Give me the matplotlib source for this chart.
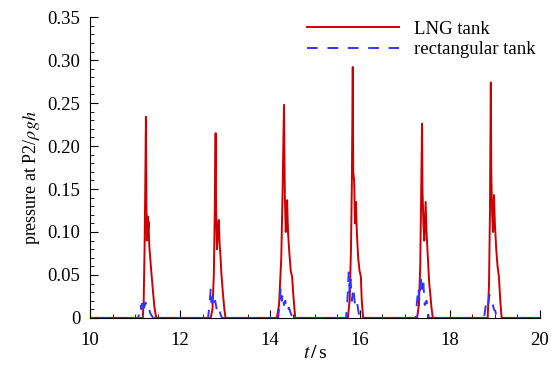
import matplotlib
matplotlib.use("Agg")
import matplotlib.pyplot as plt
from matplotlib.ticker import MultipleLocator, FuncFormatter

plt.rcParams['font.family'] = ['Liberation Serif', 'DejaVu Serif']
plt.rcParams['mathtext.fontset'] = 'stix'

# LNG tank, pressure at P2 (one row per impact event)
t_lng = [10.0,
         11.17, 11.19, 11.21, 11.225, 11.24, 11.25, 11.26, 11.27, 11.28, 11.29, 11.30, 11.31, 11.32, 11.35, 11.39, 11.43, 11.47,
         12.68, 12.72, 12.75, 12.77, 12.79, 12.80, 12.82, 12.84, 12.86, 12.87, 12.88, 12.90, 12.92, 12.93, 12.95, 12.98, 13.01,
         14.15, 14.20, 14.25, 14.28, 14.31, 14.33, 14.35, 14.37, 14.38, 14.40, 14.43, 14.46, 14.49, 14.52, 14.56,
         15.73, 15.77, 15.80, 15.82, 15.84, 15.85, 15.87, 15.89, 15.91, 15.93, 15.96, 15.99, 16.02, 16.04, 16.07,
         17.27, 17.31, 17.34, 17.36, 17.38, 17.39, 17.41, 17.43, 17.46, 17.48, 17.51, 17.54, 17.56, 17.59, 17.62,
         18.84, 18.87, 18.89, 18.90, 18.91, 18.92, 18.94, 18.96, 18.98, 19.00, 19.03, 19.06, 19.09, 19.12, 19.15,
         20.0]
p_lng = [0.0,
         0, 0.02, 0.08, 0.15, 0.234, 0.14, 0.09, 0.10, 0.118, 0.105, 0.112, 0.09, 0.08, 0.06, 0.035, 0.012, 0,
         0, 0.01, 0.05, 0.12, 0.215, 0.13, 0.08, 0.10, 0.114, 0.10, 0.085, 0.07, 0.05, 0.044, 0.03, 0.012, 0,
         0, 0.015, 0.07, 0.15, 0.248, 0.14, 0.10, 0.125, 0.137, 0.10, 0.075, 0.055, 0.048, 0.025, 0,
         0, 0.02, 0.08, 0.16, 0.292, 0.17, 0.16, 0.11, 0.135, 0.10, 0.07, 0.055, 0.048, 0.02, 0,
         0, 0.015, 0.06, 0.14, 0.226, 0.15, 0.11, 0.09, 0.135, 0.10, 0.07, 0.04, 0.03, 0.012, 0,
         0, 0.04, 0.12, 0.20, 0.274, 0.17, 0.12, 0.10, 0.143, 0.11, 0.08, 0.06, 0.048, 0.02, 0,
         0.0]

# rectangular tank
t_rect = [10.0,
          11.07, 11.10, 11.12, 11.14, 11.16, 11.18, 11.20, 11.23, 11.26, 11.30, 11.34, 11.40,
          12.62, 12.65, 12.68, 12.70, 12.72, 12.75, 12.78, 12.82, 12.86, 12.90, 12.93,
          14.18, 14.21, 14.24, 14.26, 14.28, 14.31, 14.34, 14.38, 14.42, 14.47, 14.51,
          15.69, 15.72, 15.75, 15.77, 15.79, 15.82, 15.85, 15.89, 15.93, 15.97, 16.00,
          17.24, 17.27, 17.30, 17.32, 17.35, 17.38, 17.41, 17.44, 17.48, 17.53,
          18.76, 18.79, 18.82, 18.85, 18.88, 18.91, 18.94, 18.98, 19.01, 19.04,
          20.0]
p_rect = [0.0,
          0, 0.008, 0.015, 0.01, 0.02, 0.022, 0.012, 0.018, 0.01, 0.012, 0.005, 0,
          0, 0.012, 0.033, 0.018, 0.025, 0.015, 0.02, 0.008, 0.012, 0.004, 0,
          0, 0.015, 0.036, 0.02, 0.028, 0.015, 0.02, 0.008, 0.012, 0.004, 0,
          0, 0.02, 0.053, 0.03, 0.045, 0.02, 0.035, 0.015, 0.02, 0.006, 0,
          0, 0.02, 0.035, 0.02, 0.05, 0.03, 0.04, 0.015, 0.02, 0,
          0, 0.012, 0.02, 0.015, 0.027, 0.022, 0.018, 0.01, 0.008, 0,
          0.0]

fig = plt.figure(figsize=(5.6, 3.65), dpi=100)
ax = fig.add_axes([0.161, 0.129, 0.803, 0.824])

ax.plot(t_lng, p_lng, color='#cc0000', lw=1.4, label='LNG tank')
ax.plot(t_rect, p_rect, color='#3333ff', lw=1.4, ls=(0, (5.5, 5)), label='rectangular tank')

ax.set_xlim(10, 20)
ax.set_ylim(0, 0.35)
ax.xaxis.set_major_locator(MultipleLocator(2))
ax.xaxis.set_minor_locator(MultipleLocator(0.5))
ax.yaxis.set_major_locator(MultipleLocator(0.05))
ax.yaxis.set_minor_locator(MultipleLocator(0.01))
ax.yaxis.set_major_formatter(FuncFormatter(lambda v, pos: '0' if abs(v) < 1e-9 else '%.2f' % v))

ax.tick_params(which='both', direction='in', labelsize=13.5)
ax.tick_params(which='major', length=6)
ax.tick_params(which='minor', length=3)
ax.tick_params(axis='x', pad=10)
ax.tick_params(axis='y', pad=7)
ax.spines['top'].set_visible(False)
ax.spines['right'].set_visible(False)

ax.set_xlabel(r'$t\,/\,$s', fontsize=14, labelpad=-3)
ax.set_ylabel(r'pressure at P2/$\rho gh$', fontsize=13)
ax.yaxis.set_label_coords(-0.106, 0.465)

ax.legend(loc='upper left', bbox_to_anchor=(0.548, 0.944), bbox_transform=fig.transFigure,
          frameon=False, fontsize=13.5, handlelength=4.9, borderpad=0, borderaxespad=0,
          labelspacing=0.2, handletextpad=0.8)

fig.savefig('out.png', dpi=100)
